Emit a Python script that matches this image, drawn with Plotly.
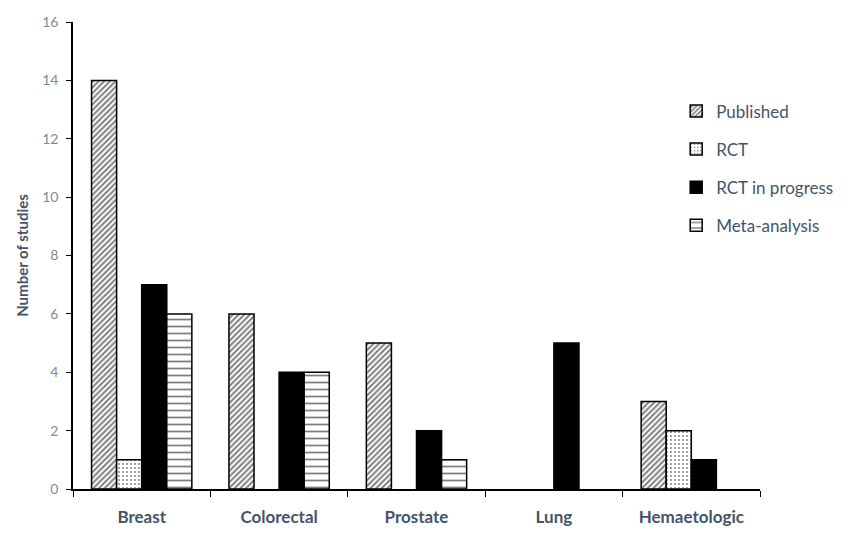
import plotly.graph_objects as go

categories = ['Breast', 'Colorectal', 'Prostate', 'Lung', 'Hemaetologic']
published = [14, 6, 5, 0, 3]
rct = [1, 0, 0, 0, 2]
rct_in_progress = [7, 4, 2, 5, 1]
meta_analysis = [6, 4, 1, 0, 0]

slate = '#44546A'
font_family = 'Lato'


def outline(vals):
    # no outline on empty bars
    return dict(color='black', width=[0 if v == 0 else 1.5 for v in vals])


fig = go.Figure()
fig.add_trace(go.Bar(x=categories, y=published, name='Published', legendgroup='a',
                     marker=dict(color='white', line=outline(published),
                                 pattern=dict(shape='/', fgcolor='black', bgcolor='white',
                                              size=4, solidity=0.5))))
fig.add_trace(go.Bar(x=categories, y=rct, name='RCT', legendgroup='b',
                     marker=dict(color='white', line=outline(rct),
                                 pattern=dict(shape='.', fgcolor='black', bgcolor='white',
                                              size=4, solidity=0.18))))
fig.add_trace(go.Bar(x=categories, y=rct_in_progress, name='RCT in progress', legendgroup='c',
                     marker=dict(color='black', line=outline(rct_in_progress))))
fig.add_trace(go.Bar(x=categories, y=meta_analysis, name='Meta-analysis', legendgroup='d',
                     marker=dict(color='white', line=outline(meta_analysis),
                                 pattern=dict(shape='-', fgcolor='black', bgcolor='white',
                                              size=7, solidity=0.25))))

fig.update_layout(
    width=862, height=540,
    margin=dict(l=65, r=110, t=14, b=59),
    paper_bgcolor='white', plot_bgcolor='white',
    barmode='group', bargap=0.27, bargroupgap=0,
    font=dict(family=font_family, color=slate),
    showlegend=True,
    legend=dict(x=0.878, y=0.847, xanchor='left', yanchor='top',
                font=dict(size=17, color=slate), tracegroupgap=13,
                traceorder='grouped', bgcolor='rgba(0,0,0,0)'),
)
fig.update_xaxes(showline=True, linecolor='black', linewidth=1.5,
                 ticks='outside', tickson='boundaries', ticklen=6, tickcolor='black',
                 tickfont=dict(size=17, color=slate, family=font_family),
                 ticklabelstandoff=12,
                 tickvals=categories, ticktext=['<b>%s</b>' % c for c in categories],
                 showgrid=False, automargin=False)
fig.update_yaxes(range=[0, 16], dtick=2, showline=True, linecolor='black', linewidth=1.5,
                 ticks='outside', ticklen=5, tickcolor='black', showgrid=False,
                 tickfont=dict(size=14, color='#7F8A99', family=font_family),
                 ticklabelstandoff=5,
                 title=dict(text='<b>Number of studies</b>', font=dict(size=15, color=slate),
                            standoff=10),
                 zeroline=False, automargin=False)

fig.write_html('out.html')
